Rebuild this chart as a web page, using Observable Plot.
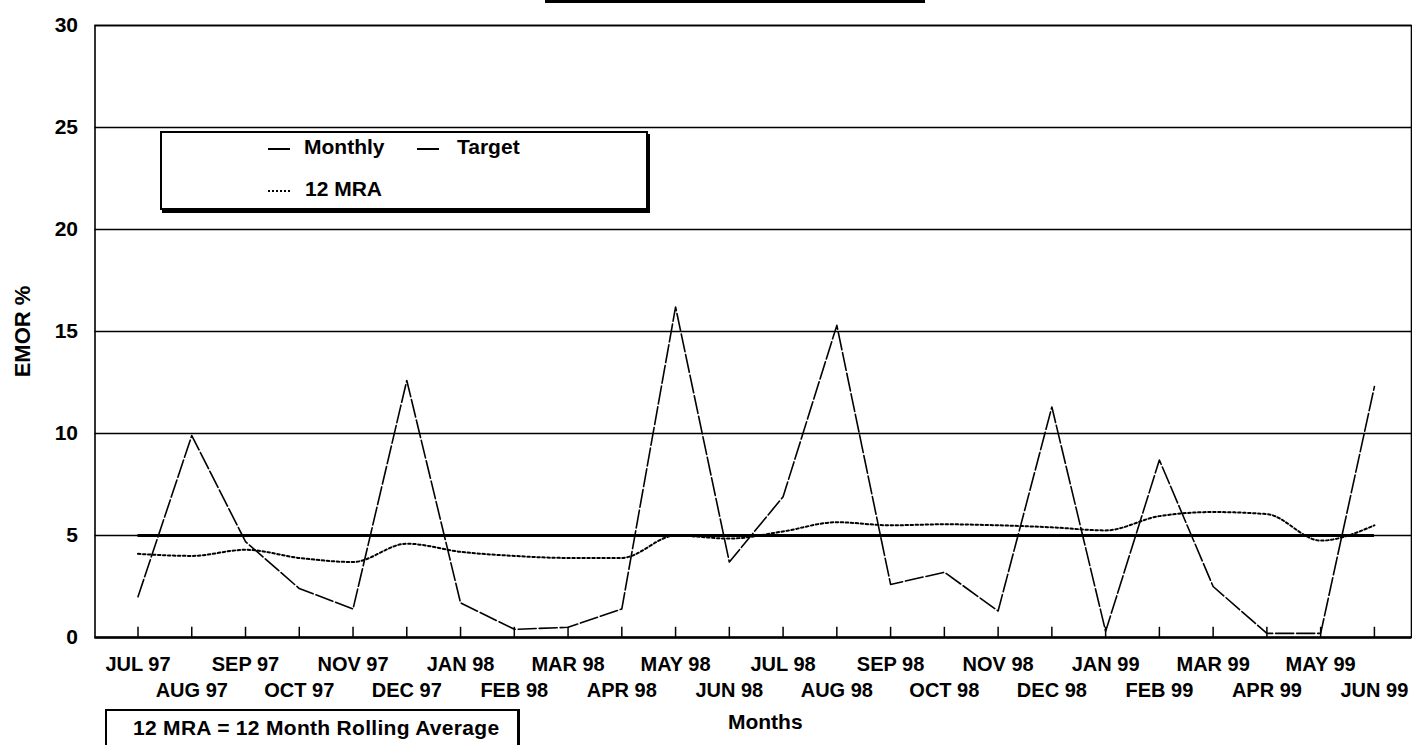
<!DOCTYPE html>
<html><head><meta charset="utf-8">
<script src="https://cdn.jsdelivr.net/npm/d3@7"></script>
<script src="https://cdn.jsdelivr.net/npm/@observablehq/plot@0.6"></script>
<style>
html,body{margin:0;padding:0;background:#fff;}
#wrap{position:relative;width:1412px;height:745px;overflow:hidden;font-family:"Liberation Sans",Arial,sans-serif;font-weight:bold;color:#000;background:#fff;}
#wrap svg{position:absolute;left:0;top:0;}
.abs{position:absolute;white-space:nowrap;line-height:24px;font-size:21px;}
#legend{position:absolute;left:160px;top:131px;width:484px;height:75px;border:2px solid #000;box-shadow:2px 3px 0 #000;background:#fff;}
#note{position:absolute;left:105px;top:709px;width:410px;height:60px;border:2px solid #000;border-right-width:3px;background:#fff;}
#titlebar{position:absolute;left:545px;top:0;width:380px;height:3px;background:#000;}
</style></head>
<body><div id="wrap"></div>
<script>
// ---- data ----
const months = ["JUL 97","AUG 97","SEP 97","OCT 97","NOV 97","DEC 97","JAN 98","FEB 98","MAR 98","APR 98","MAY 98","JUN 98",
                "JUL 98","AUG 98","SEP 98","OCT 98","NOV 98","DEC 98","JAN 99","FEB 99","MAR 99","APR 99","MAY 99","JUN 99"];
const monthly = [2.0, 9.9, 4.7, 2.4, 1.4, 12.6, 1.7, 0.4, 0.5, 1.4, 16.2, 3.7,
                 6.9, 15.3, 2.6, 3.2, 1.3, 11.3, 0.3, 8.7, 2.5, 0.2, 0.2, 12.3];
const mra = [4.1, 4.0, 4.3, 3.9, 3.7, 4.6, 4.2, 4.0, 3.9, 3.9, 5.0, 4.85,
             5.2, 5.65, 5.5, 5.55, 5.5, 5.4, 5.25, 5.95, 6.15, 6.05, 4.75, 5.5];
const targetValue = 5;
const yTicks = [0, 5, 10, 15, 20, 25, 30];
const gridValues = [5, 10, 15, 20, 25, 30];
const legendItems = ["Monthly", "Target", "12 MRA"];
const noteText = "12 MRA = 12 Month Rolling Average";
const xTitle = "Months";
const yTitle = "EMOR %";

const idx = months.map((m, i) => i);
const monthlyData = monthly.map((v, i) => ({i, v}));
const mraData = mra.map((v, i) => ({i, v}));
const evenIdx = idx.filter(i => i % 2 === 0);
const oddIdx = idx.filter(i => i % 2 === 1);

const chart = Plot.plot({
  width: 1412,
  height: 745,
  marginLeft: 94.5,
  marginRight: 1,
  marginTop: 25,
  marginBottom: 108,
  style: {fontFamily: "'Liberation Sans', Arial, sans-serif", fontWeight: "bold", fontSize: "20px", color: "#000", background: "transparent"},
  x: {type: "linear", domain: [-0.8, 23.69], axis: null},
  y: {domain: [0, 30], axis: null},
  marks: [
    Plot.ruleY(gridValues, {stroke: "#000", strokeWidth: 1.6}),
    Plot.ruleY([0], {stroke: "#000", strokeWidth: 2.6}),
    Plot.frame({stroke: "#000", strokeWidth: 1.6}),
    Plot.ruleX(idx, {x: d => d, y1: 0, y2: 0.5, stroke: "#000", strokeWidth: 1.5}),
    Plot.ruleY([targetValue], {x1: 0, x2: months.length - 1, stroke: "#000", strokeWidth: 3.2}),
    Plot.line(mraData, {x: "i", y: "v", stroke: "#000", strokeWidth: 2, strokeDasharray: "2.5,2.5", curve: "monotone-x"}),
    Plot.line(monthlyData, {x: "i", y: "v", stroke: "#000", strokeWidth: 1.6, strokeDasharray: "18,3"}),
    Plot.text(yTicks, {y: d => d, text: d => String(d), frameAnchor: "left", textAnchor: "end", dx: -17, fontSize: 21, fontWeight: "bold"}),
    Plot.text(evenIdx, {x: d => d, y: 0, text: d => months[d], dy: 27, fontSize: 20, fontWeight: "bold"}),
    Plot.text(oddIdx, {x: d => d, y: 0, text: d => months[d], dy: 53, fontSize: 20, fontWeight: "bold"}),
    Plot.text([xTitle], {frameAnchor: "bottom", lineAnchor: "middle", dx: 12, dy: 85, fontSize: 21, fontWeight: "bold"}),
    Plot.text([yTitle], {frameAnchor: "left", textAnchor: "middle", rotate: -90, dx: -72, fontSize: 22, fontWeight: "bold"})
  ]
});

const wrap = document.getElementById("wrap");
wrap.appendChild(chart);

const tb = document.createElement("div"); tb.id = "titlebar"; wrap.appendChild(tb);

const leg = document.createElement("div"); leg.id = "legend"; wrap.appendChild(leg);
function addText(txt, left, cy, size, ls) {
  const d = document.createElement("div");
  d.className = "abs";
  d.textContent = txt;
  d.style.left = left + "px";
  d.style.top = (cy - 12) + "px";
  if (size) d.style.fontSize = size + "px";
  if (ls) d.style.letterSpacing = ls + "px";
  wrap.appendChild(d);
  return d;
}
function addDash(left, cy, style) {
  const d = document.createElement("div");
  d.style.cssText = "position:absolute;left:" + left + "px;top:" + (cy - 1) + "px;width:22px;height:0;border-top:2px " + style + " #000;";
  wrap.appendChild(d);
}
addDash(268, 149, "solid");
addText(legendItems[0], 304, 147);
addDash(417, 149, "solid");
addText(legendItems[1], 457, 147);
addDash(268, 191, "dotted");
addText(legendItems[2], 305, 189);

const note = document.createElement("div"); note.id = "note"; wrap.appendChild(note);
addText(noteText, 133, 728, 21, 0.3);
</script>
</body></html>
